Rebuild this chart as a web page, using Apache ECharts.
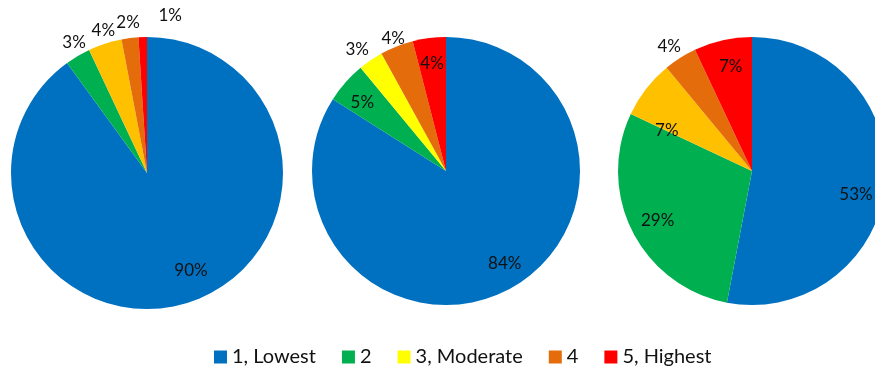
<!DOCTYPE html>
<html>
<head>
<meta charset="utf-8">
<script src="https://cdn.jsdelivr.net/npm/echarts@6/dist/echarts.min.js"></script>
<style>
  html, body { margin: 0; padding: 0; background: #fff; }
  #chart { width: 875px; height: 366px; }
</style>
</head>
<body>
<div id="chart"></div>
<script>
var categories = ['1, Lowest', '2', '3, Moderate', '4', '5, Highest'];
var pieA = [90, 3, 4, 2, 1];
var pieB = [84, 5, 3, 4, 4];
var pieC = [53, 29, 7, 4, 7];
// which labels sit inside the slice (true) or just outside (false)
var insideA = [true, false, false, false, false];
var insideB = [true, true, false, false, true];
var insideC = [true, true, true, false, true];

var colors = ['#0070C0', '#00B050', '#FFC000', '#E46C0A', '#FF0000'];
var legendColors = ['#0070C0', '#00B050', '#FFFF00', '#E46C0A', '#FF0000'];

var font = 'Lato, "Liberation Sans", sans-serif';

function pieSeries(values, inside, center, r, cols, nudge) {
    var main = {
        type: 'pie',
        center: center,
        radius: [0, r],
        startAngle: 90,
        clockwise: true,
        emphasis: { disabled: true },
        label: { show: false },
        labelLine: { show: false },
        data: values.map(function (v, i) {
            return { name: categories[i], value: v, itemStyle: { color: cols[i] } };
        })
    };
    // transparent ring overlays only used to place the % labels
    function overlay(radius, wantInside) {
        return {
            type: 'pie',
            center: center,
            radius: radius,
            startAngle: 90,
            silent: true,
            legendHoverLink: false,
            emphasis: { disabled: true },
            itemStyle: { color: 'rgba(0,0,0,0)' },
            labelLine: { show: false },
            labelLayout: function (p) {
                var n = nudge && nudge[p.dataIndex];
                if (n) return { dx: n[0], dy: n[1] };
            },
            label: {
                position: 'inside',
                formatter: '{c}%',
                color: '#111',
                fontSize: 17,
                fontFamily: font
            },
            data: values.map(function (v, i) {
                return {
                    name: categories[i], value: v,
                    label: { show: inside[i] === wantInside }
                };
            })
        };
    }
    return [main, overlay([r * 0.62, r], true), overlay([r, r * 1.18], false)];
}

var colorsB = colors.slice();
colorsB[2] = '#FFFF00';

var series = []
    .concat(pieSeries(pieA, insideA, [147, 173], 136, colors,
        { 0: [9, -10], 1: [4, 0], 2: [3, 1], 4: [28, -6] }))
    .concat(pieSeries(pieB, insideB, [446, 171], 134, colorsB,
        { 0: [5, -5], 1: [0, 5], 2: [-5, 2], 3: [2, 6], 4: [0, 3] }))
    .concat(pieSeries(pieC, insideC, [752, 171], 134, colors,
        { 0: [-7, 13], 1: [5, -1], 2: [3, 28], 3: [-3, 1], 4: [3, 4] }));

var chart = echarts.init(document.getElementById('chart'));
chart.setOption({
    animation: false,
    legend: {
        top: 342,
        left: 209,
        icon: 'rect',
        itemWidth: 13,
        itemHeight: 13,
        itemGap: 26,
        textStyle: { fontSize: 20, color: '#111', fontFamily: font },
        data: categories.map(function (c, i) {
            return { name: c, itemStyle: { color: legendColors[i] } };
        })
    },
    series: series
});
</script>
</body>
</html>
